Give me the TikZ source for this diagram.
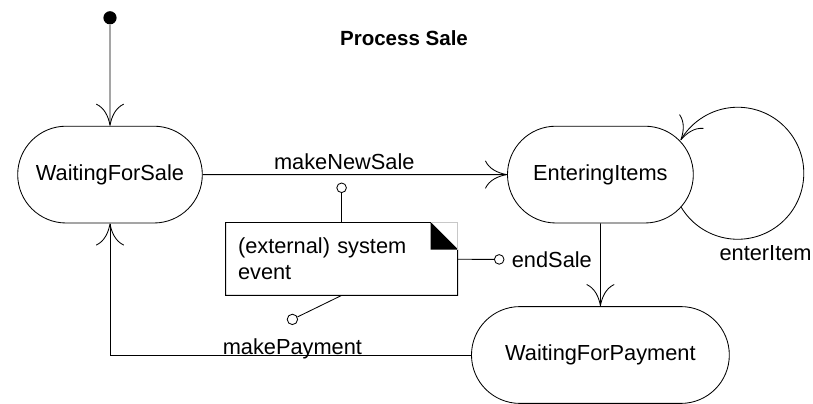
\documentclass[tikz,border=0pt]{standalone}
\usepackage{fontspec}
\setmainfont{Liberation Sans}
\usetikzlibrary{arrows.meta,positioning,shapes.misc}
\definecolor{earline}{RGB}{200,200,200}

\begin{document}
\begin{tikzpicture}[
  line width=0.6pt,
  txt/.style={font=\fontsize{15.5}{18.6}\selectfont},
  state/.style={draw,rounded rectangle,minimum height=2.42cm,minimum width=#1,txt},
  trans/.style={-{To[length=5.5mm,width=7mm]}},
  lolli/.style={draw,circle,fill=white,inner sep=0pt,minimum size=#1}]
  \useasboundingbox (0,0) rectangle (20.325,10.075);
  \node[circle,fill,inner sep=0pt,minimum size=3.3mm] (init) at (2.75,9.63) {};
  \node[font=\bfseries\fontsize{14.6}{17}\selectfont] (title) at (10.1,9.12) {Process Sale};
  \node[state=4.85cm] (wsale) at (2.75,5.71) {WaitingForSale};
  \node[state=4.88cm] (enter) at (15.01,5.71) {EnteringItems};
  \node[state=6.68cm] (wpay) at (15.01,1.2) {WaitingForPayment};
  \node[txt,text width=5.18cm,align=left,inner sep=0.3cm,minimum height=1.8cm] (note) at (8.54,3.60) {(external) system\\event};
  % note outline with folded corner
  \draw (note.north west) -- ([xshift=-6.75mm]note.north east) -- ([yshift=-6.75mm]note.north east)
    -- (note.south east) -- (note.south west) -- cycle;
  \fill ([xshift=-6.75mm]note.north east) -- ++(0,-6.75mm) -- ([yshift=-6.75mm]note.north east) -- cycle;
  \draw[earline] ([xshift=-6.75mm]note.north east) -| ([yshift=-6.75mm]note.north east);
  \node[lolli=2.4mm] (newsale) at (8.54,5.38) {};
  \node[lolli=2.4mm] (endsale) at (12.48,3.59) {};
  \node[lolli=2.6mm] (paysig) at (7.31,2.09) {};
  \node[txt,right=5pt of endsale,inner sep=0pt] (endlbl) {endSale};
  \node[txt,below=9.5pt of paysig,inner sep=0pt] (paylbl) {makePayment};
  \node[txt] (itemlbl) at (19.14,3.75) {enterItem};
  \draw (newsale) -- (note);
  \draw (note) -- (endsale);
  \draw (note.south) -- (paysig);
  \draw[trans] (init) -- (wsale);
  \draw[trans] (wsale) -- node[txt,above=1pt,inner sep=2pt,pos=0.465] (newlbl) {makeNewSale} (enter);
  \draw[trans] (enter) -- (wpay);
  \draw[trans] (wpay.west) -| (wsale.south);
  \draw[trans] (enter.-22) arc[start angle=-149,end angle=150,radius=1.65cm];
\end{tikzpicture}
\end{document}
